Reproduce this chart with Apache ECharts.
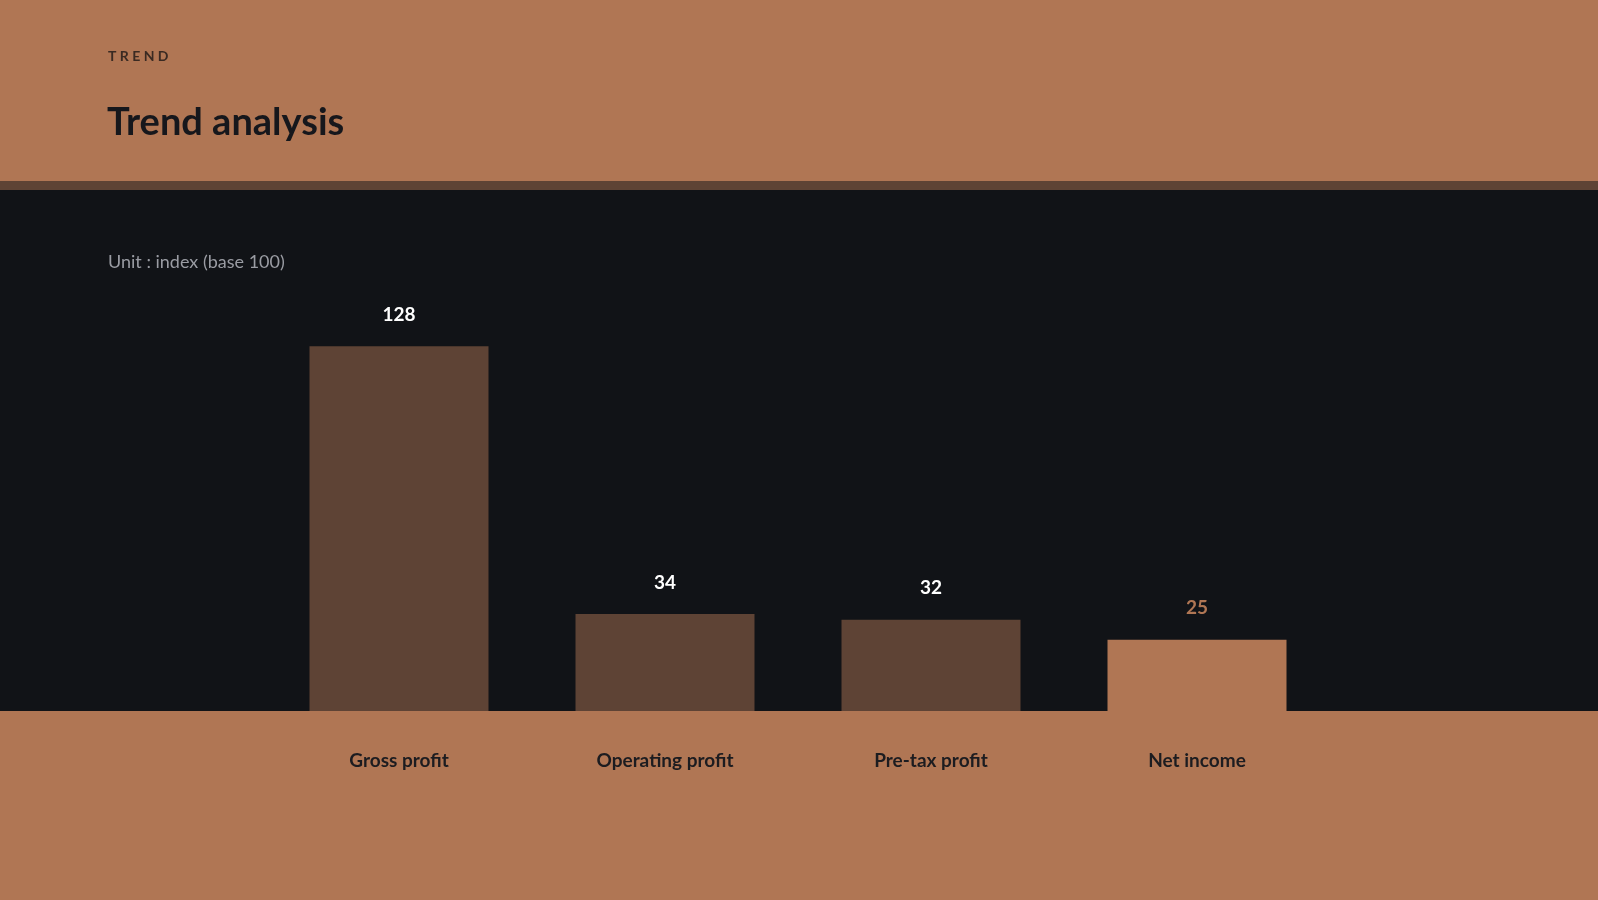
<!DOCTYPE html>
<html><head><meta charset="utf-8">
<script src="https://cdn.jsdelivr.net/npm/echarts@6/dist/echarts.min.js"></script>
<style>html,body{margin:0;padding:0;background:#B07654}#c{width:1598px;height:900px}</style>
</head><body><div id="c"></div>
<script>
const categories = ['Gross profit','Operating profit','Pre-tax profit','Net income'];
const values = [128,34,32,25];
const highlight = [false,false,false,true];
const chart = echarts.init(document.getElementById('c'));
chart.setOption({
  backgroundColor:'#B07654',
  textStyle:{fontFamily:'Lato'},
  graphic:[
    {type:'rect',shape:{x:0,y:181,width:1598,height:9},style:{fill:'#5E4335'},z:-10},
    {type:'rect',shape:{x:0,y:190,width:1598,height:521},style:{fill:'#111317'},z:-10},
    {type:'text',left:108,top:49,style:{text:'T R E N D',fill:'#3a2a22',font:'bold 14px Lato'}},
    {type:'text',left:107,top:104,style:{text:'Trend analysis',fill:'#16171c',font:'bold 38px Lato'}},
    {type:'text',left:108,top:253,style:{text:'Unit : index (base 100)',fill:'#9a9ca3',font:'18px Lato'}}
  ],
  grid:{left:266,right:268,top:198,bottom:189},
  xAxis:{type:'category',data:categories,axisLine:{show:false},axisTick:{show:false},
    axisLabel:{margin:40,color:'#1c1c20',fontSize:19,fontWeight:'bold',fontFamily:'Lato'}},
  yAxis:{type:'value',min:0,max:180,show:false,splitLine:{show:false}},
  series:[{type:'bar',barWidth:179,
    data:values.map((v,i)=>({value:v,
      itemStyle:{color:highlight[i]?'#B07654':'#5E4335'},
      label:{color:highlight[i]?'#B07654':'#ffffff'}})),
    label:{show:true,position:'top',distance:22,fontSize:19,fontWeight:'bold',fontFamily:'Lato'}
  }]
});
</script></body></html>
